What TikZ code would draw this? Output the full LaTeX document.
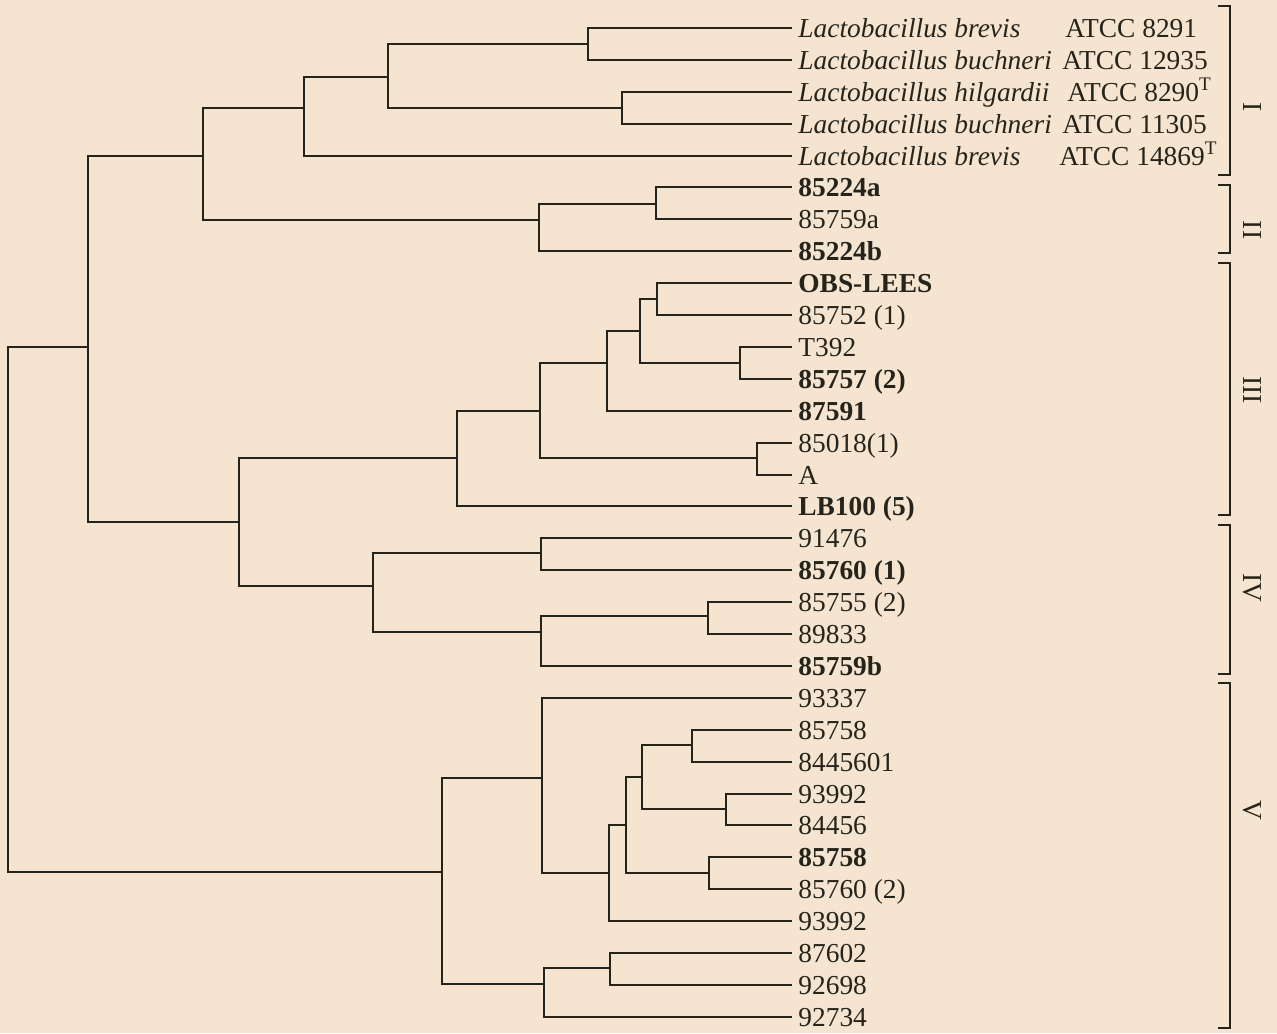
\documentclass[tikz,border=0pt]{standalone}
\usepackage{fontspec}
\setmainfont{Liberation Serif}
\definecolor{paper}{HTML}{F4E4D0}
\definecolor{ink}{HTML}{26241A}

\begin{document}
\begin{tikzpicture}[x=0.5pt,y=-0.5pt,
    br/.style={draw=ink,line width=1.25pt},
    leaf/.style={anchor=west,inner xsep=3pt,inner ysep=0pt,text height=12pt,text depth=3pt,text=ink,font=\fontsize{13.7}{16}\selectfont},
    grp/.style={rotate=-90,text=ink,font=\fontsize{13.7}{16}\selectfont}]
  \fill[paper] (0,0) rectangle (1277,1033);
  \useasboundingbox (0,0) rectangle (1277,1033);
  % strains
  \foreach \i/\t in {
      1/{\makebox[133.5pt][l]{\textit{Lactobacillus brevis}}ATCC 8291},
      2/{\makebox[132pt][l]{\textit{Lactobacillus buchneri}}ATCC 12935},
      3/{\makebox[134.5pt][l]{\textit{Lactobacillus hilgardii}}ATCC 8290\textsuperscript{T}},
      4/{\makebox[132pt][l]{\textit{Lactobacillus buchneri}}ATCC 11305},
      5/{\makebox[130.5pt][l]{\textit{Lactobacillus brevis}}ATCC 14869\textsuperscript{T}},
      6/\textbf{85224a},7/85759a,8/\textbf{85224b},
      9/\textbf{OBS-LEES},10/85752 (1),11/T392,12/\textbf{85757 (2)},13/\textbf{87591},
      14/85018(1),15/A,16/\textbf{LB100 (5)},
      17/91476,18/\textbf{85760 (1)},19/85755 (2),20/89833,21/\textbf{85759b},
      22/93337,23/85758,24/8445601,25/93992,26/84456,27/\textbf{85758},28/85760 (2),
      29/93992,30/87602,31/92698,32/92734}
    \node[leaf] (l\i) at (792,{round(28+31.9*(\i-1))}) {\t};
  % joins
  \coordinate (n12) at (588,44);   \coordinate (n34) at (622,108);
  \coordinate (nA) at (388,77);    \coordinate (nB) at (304,108);
  \coordinate (n67) at (656,204);  \coordinate (nC) at (539,220);
  \coordinate (nD) at (203,156);
  \coordinate (n910) at (657,299); \coordinate (n1112) at (740,363);
  \coordinate (nE) at (640,331);   \coordinate (nF) at (607,363);
  \coordinate (n1415) at (757,458);\coordinate (nG) at (540,411);
  \coordinate (nH) at (457,458);
  \coordinate (n1718) at (541,553);\coordinate (n1920) at (708,616);
  \coordinate (nI) at (541,632);   \coordinate (nJ) at (373,586);
  \coordinate (nK) at (239,522);   \coordinate (nL) at (88,347);
  \coordinate (n2324) at (692,745);\coordinate (n2526) at (726,809);
  \coordinate (nM) at (642,777);   \coordinate (n2728) at (709,873);
  \coordinate (nN) at (626,825);   \coordinate (nO) at (609,873);
  \coordinate (nP) at (542,778);   \coordinate (n3031) at (610,968);
  \coordinate (nQ) at (544,984);   \coordinate (nR) at (442,872);
  \coordinate (root) at (8,600);
  \foreach \p/\c in {n12/l1,n12/l2,n34/l3,n34/l4,nA/n12,nA/n34,nB/nA,nB/l5,
      n67/l6,n67/l7,nC/n67,nC/l8,nD/nB,nD/nC,
      n910/l9,n910/l10,n1112/l11,n1112/l12,nE/n910,nE/n1112,nF/nE,nF/l13,
      n1415/l14,n1415/l15,nG/nF,nG/n1415,nH/nG,nH/l16,
      n1718/l17,n1718/l18,n1920/l19,n1920/l20,nI/n1920,nI/l21,nJ/n1718,nJ/nI,
      nK/nH,nK/nJ,nL/nD,nL/nK,
      n2324/l23,n2324/l24,n2526/l25,n2526/l26,nM/n2324,nM/n2526,
      n2728/l27,n2728/l28,nN/nM,nN/n2728,nO/nN,nO/l29,nP/l22,nP/nO,
      n3031/l30,n3031/l31,nQ/n3031,nQ/l32,nR/nP,nR/nQ,
      root/nL,root/nR}
    \draw[br] (\p) |- (\c);
  % clusters
  \foreach \a/\b in {6/175,185/253,263/515,525/674,683/1028}
    \draw[br,line width=1pt] (1218,\a) -| (1230,\b) -- (1218,\b);
  \foreach \g/\y in {I/107,II/230,III/390,IV/588,V/810}
    \node[grp] (g\g) at (1252,\y) {\g};
\end{tikzpicture}
\end{document}
